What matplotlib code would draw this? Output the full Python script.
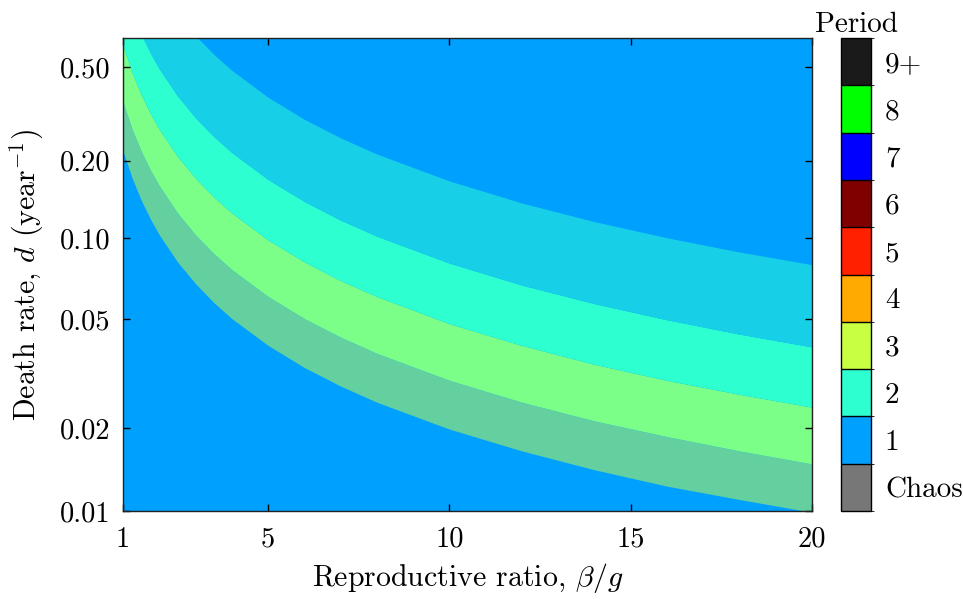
import numpy as np
import matplotlib
matplotlib.use("Agg")
import matplotlib.pyplot as plt
from matplotlib.colors import ListedColormap, BoundaryNorm, to_rgb
import matplotlib.colorbar as mcolorbar

plt.rcParams["font.family"] = "serif"
plt.rcParams["font.serif"] = ["cmr10"]
plt.rcParams["mathtext.fontset"] = "cm"
plt.rcParams["axes.formatter.use_mathtext"] = True
plt.rcParams["axes.unicode_minus"] = False

# Reproductive ratio sample points and the death rates at which the period changes
ratio = [1, 1.25, 1.5, 1.75, 2, 2.5, 3, 3.5, 4, 5, 6, 7, 8, 10, 12, 14, 16, 18, 20]
edge_1_13 = [0.2182, 0.1706, 0.1401, 0.1188, 0.1031, 0.0816, 0.0676, 0.0576, 0.0502, 0.0400,
             0.0332, 0.0284, 0.0248, 0.0198, 0.0165, 0.0141, 0.0123, 0.0110, 0.0099]
edge_13_23 = [0.3481, 0.2681, 0.2182, 0.1839, 0.1590, 0.1251, 0.1031, 0.0877, 0.0763, 0.0606,
              0.0502, 0.0429, 0.0374, 0.0298, 0.0248, 0.0212, 0.0186, 0.0165, 0.0148]
edge_23_2 = [0.6349, 0.4716, 0.3759, 0.3128, 0.2679, 0.2083, 0.1704, 0.1442, 0.1250, 0.0987,
             0.0816, 0.0695, 0.0606, 0.0481, 0.0400, 0.0341, 0.0298, 0.0265, 0.0238]
edge_2_12 = [1.4917, 0.9676, 0.7271, 0.5850, 0.4902, 0.3711, 0.2988, 0.2503, 0.2153, 0.1684,
             0.1383, 0.1173, 0.1019, 0.0807, 0.0668, 0.0570, 0.0497, 0.0440, 0.0395]
edge_12_1 = [3.0, 3.0, 3.0, 2.0739, 1.4482, 0.9467, 0.7133, 0.5747, 0.4821, 0.3653,
             0.2944, 0.2467, 0.2123, 0.1661, 0.1364, 0.1157, 0.1005, 0.0888, 0.0796]

# Periods present in each band, from low to high death rate
band_periods = [(1, 3), (2, 3), (2,), (1, 2)]
band_edges = [edge_1_13, edge_13_23, edge_23_2, edge_2_12, edge_12_1]

period_labels = ["Chaos", "1", "2", "3", "4", "5", "6", "7", "8", "9+"]
period_colors = ["#777777", "#00a0ff", "#2dffd0", "#c8ff40", "#ffaa00",
                 "#ff2000", "#800000", "#0000ff", "#00ff00", "#1a1a1a"]

y_ticks = [0.01, 0.02, 0.05, 0.10, 0.20, 0.50]
y_tick_labels = ["0.01", "0.02", "0.05", "0.10", "0.20", "0.50"]
x_ticks = [1, 5, 10, 15, 20]


def mix(periods):
    rgb = np.array([to_rgb(period_colors[p]) for p in periods])
    return rgb.mean(axis=0)


def fwd(d):
    d = np.clip(np.asarray(d, dtype=float), 1e-12, None)
    return np.log10(-np.expm1(-d))


def inv(y):
    p = np.clip(10.0 ** np.asarray(y, dtype=float), 0.0, 1 - 1e-12)
    return -np.log1p(-p)


fig = plt.figure(figsize=(9.63, 5.99), dpi=100)
ax = fig.add_axes([123 / 963, 88 / 599, 689 / 963, 473 / 599])
ax.set_facecolor(period_colors[1])

for periods, lo, hi in zip(band_periods, band_edges[:-1], band_edges[1:]):
    ax.fill_between(ratio, lo, hi, color=mix(periods), linewidth=0)

ax.set_yscale("function", functions=(fwd, inv))
ax.set_xlim(1, 20)
ax.set_ylim(0.01, np.log(2))
ax.set_yticks(y_ticks)
ax.set_yticklabels(y_tick_labels)
ax.yaxis.set_minor_locator(matplotlib.ticker.NullLocator())
ax.set_xticks(x_ticks)
ax.set_xticklabels([str(t) for t in x_ticks])
ax.tick_params(direction="in", length=5, width=1, top=True, right=True,
               labelsize=20.5)
ax.tick_params(axis="y", pad=9)
ax.tick_params(axis="x", pad=11)
for s in ax.spines.values():
    s.set_linewidth(1.0)
    s.set_color("#222222")
ax.set_xlabel("Reproductive ratio, $\\beta/g$", fontsize=21.5, labelpad=6)
ax.set_ylabel("Death rate, $d$ (year$^{-1}$)", fontsize=21.5, labelpad=10)

cax = fig.add_axes([841 / 963, 88 / 599, 30 / 963, 473 / 599])
cmap = ListedColormap(period_colors)
norm = BoundaryNorm(np.arange(-0.5, len(period_colors) + 0.5), len(period_colors))
cb = mcolorbar.ColorbarBase(cax, cmap=cmap, norm=norm,
                            ticks=np.arange(len(period_colors)), drawedges=True)
cb.set_ticklabels(period_labels)
cb.outline.set_linewidth(1.0)
cb.dividers.set_linewidth(1.0)
cax.tick_params(length=0, labelsize=21, pad=10)
cax.set_title("Period", fontsize=21, pad=3)

fig.savefig("out.png", dpi=100)
